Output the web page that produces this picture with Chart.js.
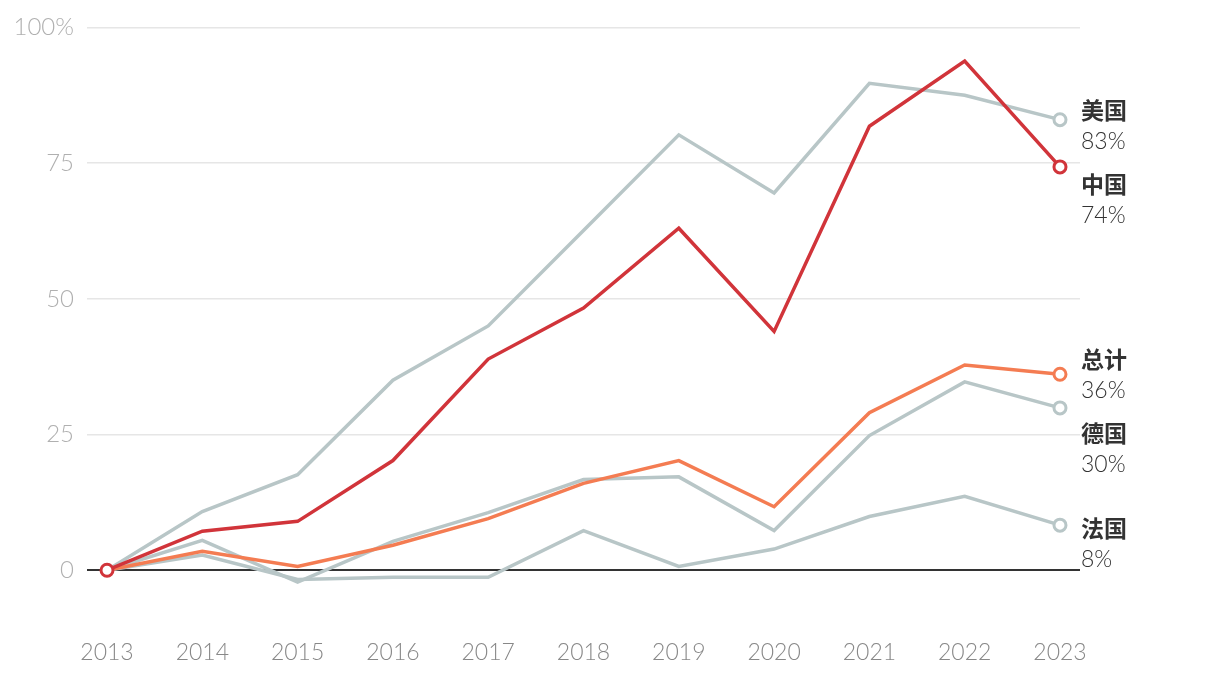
<!DOCTYPE html>
<html>
<head>
<meta charset="utf-8">
<script src="https://cdn.jsdelivr.net/npm/chart.js@4/dist/chart.umd.min.js"></script>
<style>
  html, body { margin: 0; padding: 0; background: #fff; }
  #wrap { width: 1220px; height: 678px; }
</style>
</head>
<body>
<div id="wrap"><canvas id="chart"></canvas></div>
<script>
  // Data (% change vs 2013)
  const years = [2013, 2014, 2015, 2016, 2017, 2018, 2019, 2020, 2021, 2022, 2023];
  const china   = [0, 7.2, 9.0, 20.2, 38.9, 48.3, 63.0, 44.0, 81.8, 93.8, 74.3];
  const total   = [0, 3.5, 0.7, 4.6, 9.5, 16.0, 20.2, 11.7, 29.0, 37.8, 36.1];
  const usa     = [0, 10.8, 17.6, 35.0, 45.0, 62.6, 80.2, 69.5, 89.7, 87.5, 83.0];
  const germany = [0, 5.5, -2.2, 5.3, 10.6, 16.7, 17.2, 7.3, 24.8, 34.7, 29.9];
  const france  = [0, 2.8, -1.7, -1.3, -1.3, 7.3, 0.7, 3.9, 9.9, 13.6, 8.3];
  const yTicks = [0, 25, 50, 75, 100];

  const gray = '#b8c6c7';
  const red = '#d1343a';
  const orange = '#f47c52';

  // small pixel nudges for the end labels
  const labelNudge = { '美国': -9, '中国': -9, '总计': -15, '德国': -9, '法国': 3 };

  function series(name, values, color, startDot) {
    const last = values.length - 1;
    return {
      label: name,
      data: values.map((v, i) => ({ x: years[i], y: v })),
      borderColor: color,
      backgroundColor: '#fff',
      borderWidth: 3.5,
      pointRadius: values.map((v, i) => (i === last || (startDot && i === 0)) ? 6 : 0),
      pointBorderWidth: 3,
      pointBackgroundColor: '#fff',
      pointBorderColor: color,
      tension: 0,
      clip: false
    };
  }

  const endLabels = {
    id: 'endLabels',
    afterDatasetsDraw(chart) {
      const ctx = chart.ctx;
      const items = chart.data.datasets.map((ds, i) => {
        const meta = chart.getDatasetMeta(i);
        const pt = meta.data[meta.data.length - 1];
        const v = ds.data[ds.data.length - 1].y;
        return { name: ds.label, value: Math.round(v) + '%', y: pt.y + labelNudge[ds.label] };
      }).sort((a, b) => a.y - b.y);
      let prev = -Infinity;
      items.forEach(it => {
        if (it.y < prev + 74) it.y = prev + 74;
        prev = it.y;
      });
      const x = chart.chartArea.right + 1;
      ctx.save();
      ctx.textAlign = 'left';
      ctx.textBaseline = 'middle';
      ctx.fillStyle = '#333';
      items.forEach(it => {
        ctx.font = 'bold 23px "Noto Sans CJK SC"';
        ctx.fillText(it.name, x, it.y);
        ctx.font = '300 23px Lato, "Noto Sans"';
        ctx.fillText(it.value, x, it.y + 31);
      });
      ctx.restore();
    }
  };

  new Chart(document.getElementById('chart'), {
    type: 'line',
    data: {
      datasets: [
        series('中国', china, red, true),
        series('总计', total, orange, false),
        series('美国', usa, gray, false),
        series('德国', germany, gray, false),
        series('法国', france, gray, false)
      ]
    },
    options: {
      responsive: true,
      maintainAspectRatio: false,
      animation: false,
      layout: { padding: { top: 25, right: 140, left: 0, bottom: 0 } },
      plugins: { legend: { display: false }, tooltip: { enabled: false } },
      scales: {
        x: {
          type: 'linear',
          min: 2012.79,
          max: 2023.21,
          afterBuildTicks: scale => { scale.ticks = years.map(v => ({ value: v })); },
          afterFit: scale => { scale.height = 53.5; },
          grid: { display: false },
          border: { display: false },
          ticks: {
            color: '#888',
            padding: 6,
            font: { family: 'Lato', size: 23, weight: 300 },
            callback: v => String(v),
            maxRotation: 0,
            autoSkip: false
          }
        },
        y: {
          min: -10,
          max: 100,
          afterBuildTicks: scale => { scale.ticks = yTicks.map(v => ({ value: v })); },
          afterFit: scale => { scale.width = 87; },
          border: { display: false },
          grid: {
            drawTicks: false,
            lineWidth: ctx => ctx.tick && ctx.tick.value === 0 ? 2 : 1.5,
            color: ctx => ctx.tick && ctx.tick.value === 0 ? '#333' : '#e6e6e6'
          },
          ticks: {
            color: '#b0b0b0',
            padding: 13,
            font: { family: 'Lato', size: 24, weight: 300 },
            callback: v => v === 100 ? '100%' : String(v)
          }
        }
      }
    },
    plugins: [endLabels]
  });
</script>
</body>
</html>
